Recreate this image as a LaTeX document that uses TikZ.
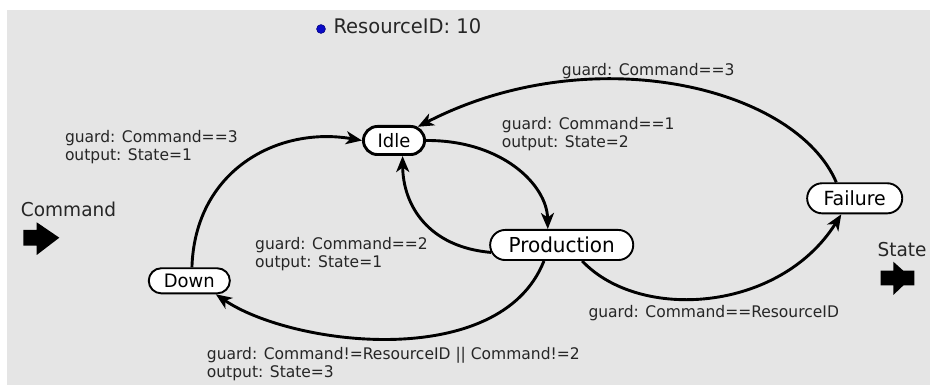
\documentclass[tikz,border=0pt]{standalone}
\usepackage{fontspec}
\setmainfont[FakeStretch=0.97]{DejaVu Sans}
\usetikzlibrary{shapes.misc,arrows.meta}
\definecolor{canvas}{RGB}{229,229,229}
\definecolor{dotblue}{RGB}{10,10,200}
\tikzset{
  state/.style={rounded rectangle, draw=black, fill=white, line width=1.9pt,
    inner sep=0pt, font=\fontsize{18.5}{21}\selectfont},
  initstate/.style={state, line width=2.9pt},
  trans/.style={line width=2.9pt, -{Stealth[length=16pt,width=13pt,inset=4.5pt]}},
  % anchored at the baseline of the last line
  lbl/.style={anchor=base west, align=left, inner sep=0pt, text=black!85,
    font=\fontsize{16}{18}\selectfont},
  port/.style={anchor=base west, inner sep=0pt, text=black!85,
    font=\fontsize{19.1}{21}\selectfont},
  portarrow/.style={fill=black, draw=none}
}
\begin{document}
\begin{tikzpicture}[x=1pt,y=-1pt]
\useasboundingbox (0,0) rectangle (930,387);
\fill[canvas] (7,10) rectangle (930,385);

% parameter
\fill[dotblue, draw=blue!50!black, line width=0.6pt] (321,29) circle (4.4);
\node[port, font=\fontsize{20.1}{22}\selectfont] (rid) at (333.3,33.3) {ResourceID: 10};

% ports
\node[port] (cmd) at (20.7,216.5) {Command};
\fill[portarrow] (23.3,230) -- (36.7,230) -- (36.7,222.3) -- (59.3,237.7)
  -- (36.7,255) -- (36.7,245.7) -- (23.3,245.7) -- cycle;
\node[port] (st) at (877.3,256.5) {State};
\fill[portarrow] (880.7,270.7) -- (893.3,270.7) -- (893.3,261.7) -- (903.3,270.7)
  -- (914.3,270.7) -- (914.3,285.5) -- (903.3,285.5) -- (893.3,295)
  -- (893.3,285.5) -- (880.7,285.5) -- cycle;

% states
\node[initstate, minimum width=61.1pt, minimum height=28.1pt] (idle) at (394,140.5) {Idle};
\node[state, minimum width=143.1pt, minimum height=30.1pt, font=\fontsize{20.6}{22}\selectfont] (prod) at (561.7,245) {Production};
\node[state, minimum width=95.1pt, minimum height=30.1pt, font=\fontsize{19.5}{21}\selectfont] (fail) at (854.7,198.3) {Failure};
\node[state, minimum width=81.1pt, minimum height=25.1pt] (down) at (189.3,280.8) {Down};

% transitions
\draw[trans] (down.79) .. controls (195,170) and (278,126) .. (idle.west);
\draw[trans] (idle.east) .. controls (502,140) and (547,185) .. (prod.131);
\draw[trans] (prod.186) .. controls (428,247) and (403,205) .. (idle.299);
\draw[trans] (fail.139) .. controls (795,86) and (590,38) .. (idle.30);
\draw[trans] (prod.222) .. controls (500,372) and (292,346) .. (down.333);
\draw[trans] (prod.322) .. controls (640,322) and (780,312) .. (fail.230);

% transition labels
\node[lbl] (l1) at (64.8,160.3) {guard: Command==3\\output: State=1};
\node[lbl] (l2) at (501.7,147.8) {guard: Command==1\\output: State=2};
\node[lbl] (l3) at (561.7,75.7) {guard: Command==3};
\node[lbl] (l4) at (255,267.8) {guard: Command==2\\output: State=1};
\node[lbl] (l5) at (588.3,317.3) {guard: Command==ResourceID};
\node[lbl] (l6) at (206.7,377.3) {guard: Command!=ResourceID || Command!=2\\output: State=3};
\end{tikzpicture}
\end{document}
